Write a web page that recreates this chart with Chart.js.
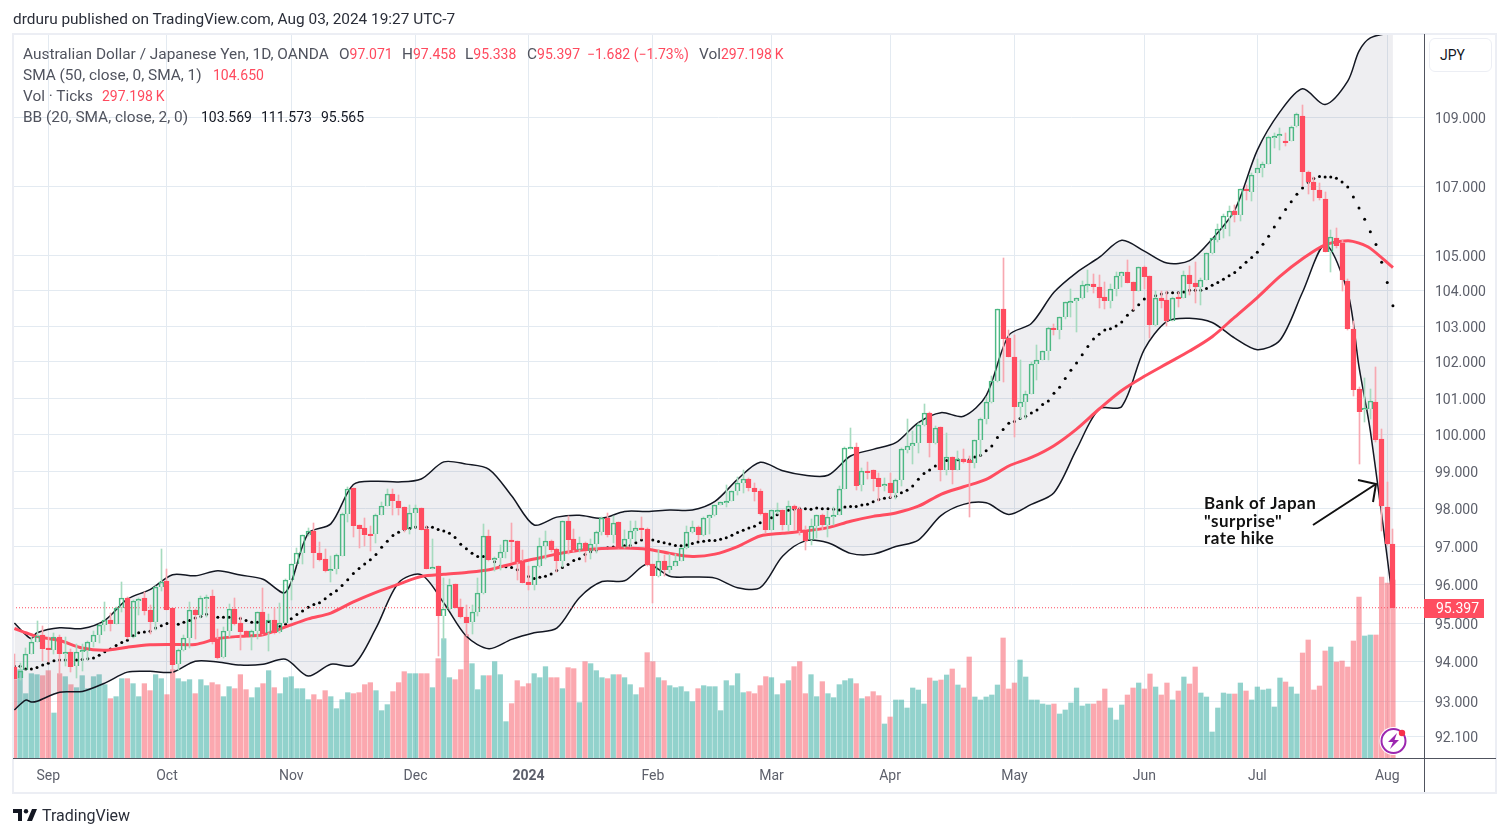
<!DOCTYPE html>
<html>
<head>
<meta charset="utf-8">
<title>AUD/JPY</title>
<script src="https://cdn.jsdelivr.net/npm/chart.js@4"></script>
<style>
  body { margin: 0; background: #fff; width: 1509px; height: 837px; overflow: hidden; font-family: Roboto, sans-serif; color: #131722; }
  canvas { position: absolute; left: 0; top: 0; }
  .txt { position: absolute; white-space: pre; font-size: 15.4px; line-height: 18px; color: #50535e; }
  .r { color: #ff4a5e; font-size: 14px; }
  .k { color: #131722; font-size: 14px; }
  #jpy { position: absolute; left: 1429px; top: 38px; width: 61px; height: 32px; border: 1px solid #eceef4; border-radius: 6px; font-size: 14px; line-height: 32px; text-indent: 10px; color: #131722; background: #fff; }
</style>
</head>
<body>
<canvas id="chart" width="1509" height="837"></canvas>
<div class="txt" style="left:13px;top:10px;color:#2a2e39">drduru published on TradingView.com, Aug 03, 2024 19:27 UTC-7</div>
<div class="txt" style="left:23px;top:45px">Australian Dollar / Japanese Yen, 1D, OANDA</div>
<div class="txt" style="left:339px;top:45px">O<span class="r">97.071</span></div>
<div class="txt" style="left:402px;top:45px">H<span class="r">97.458</span></div>
<div class="txt" style="left:465px;top:45px">L<span class="r">95.338</span></div>
<div class="txt" style="left:527px;top:45px">C<span class="r">95.397</span></div>
<div class="txt r" style="left:587px;top:45px">−1.682 (−1.73%)</div>
<div class="txt" style="left:699px;top:45px">Vol<span class="r">297.198&#8201;K</span></div>
<div class="txt" style="left:23px;top:66px">SMA (50, close, 0, SMA, 1)</div>
<div class="txt r" style="left:213px;top:66px">104.650</div>
<div class="txt" style="left:23px;top:87px">Vol · Ticks</div>
<div class="txt r" style="left:102px;top:87px">297.198&#8201;K</div>
<div class="txt" style="left:23px;top:108px">BB (20, SMA, close, 2, 0)</div>
<div class="txt k" style="left:201px;top:108px">103.569</div>
<div class="txt k" style="left:261px;top:108px">111.573</div>
<div class="txt k" style="left:321px;top:108px">95.565</div>
<div id="jpy">JPY</div>
<svg style="position:absolute;left:13px;top:809px" width="24" height="13" viewBox="0 0 24 13"><path d="M0 0h9v12H5V4H0z M14 12l5-12h5l-5 12z" fill="#131722"/><circle cx="13" cy="2.200" r="2.200" fill="#131722"/></svg>
<div class="txt" style="left:42px;top:807px;font-size:16px;color:#2a2e39">TradingView</div>

<script>
// AUD/JPY daily candles (Aug 2023 - Aug 2024)
const opens = [
  93.87,93.58,93.8,94.2,94.5,94.68,94.36,94.3,94.65,94.2,
  94.26,93.89,94.28,94.28,94.5,94.68,94.96,95.08,94.98,95.4,
  95.65,94.64,95.57,95.64,95.35,95.04,95.95,96.09,95.38,93.95,
  94.3,94.61,95.35,95.21,95.65,95.69,94.58,94.13,94.8,95.37,
  95.0,94.8,94.63,94.8,95.28,94.75,95.08,94.76,95.01,96.13,
  96.54,96.82,97.3,97.41,96.82,96.66,96.39,96.4,96.76,97.87,
  98.55,97.57,97.48,97.32,97.32,97.84,98.08,98.41,98.22,98.04,
  97.46,97.9,98.01,97.47,96.42,96.49,95.18,95.37,96.01,95.42,
  95.16,95.02,95.29,95.77,97.28,96.64,96.7,96.85,97.17,97.14,
  96.61,96.06,96.0,96.48,97.01,97.15,96.94,96.63,97.68,97.2,
  96.91,97.09,96.89,97.08,97.39,97.76,97.3,97.64,96.98,97.21,
  97.42,97.5,97.47,96.53,96.23,96.63,96.39,96.5,96.63,96.95,
  97.38,97.53,97.3,97.76,97.83,98.1,98.18,98.21,98.48,98.7,
  98.81,98.57,98.48,97.89,97.44,97.96,97.97,97.58,98.08,98.0,
  97.45,97.16,97.55,97.84,97.58,97.78,97.84,98.53,99.65,99.67,
  98.63,99.02,99.04,98.82,98.6,98.68,98.43,98.78,99.59,99.7,
  99.76,100.27,100.6,99.76,100.2,99.05,99.38,99.05,99.35,99.31,
  99.24,99.85,100.43,100.88,101.46,103.48,102.66,102.14,100.76,100.9,
  101.12,101.94,102.05,102.3,102.95,102.88,103.25,103.68,103.69,103.78,
  104.17,104.18,104.11,103.81,103.69,104.05,104.4,104.52,104.24,103.99,
  104.66,104.4,103.02,103.78,103.73,103.15,103.81,103.8,104.44,104.21,
  104.11,104.3,105.06,105.43,105.75,106.1,106.28,106.15,106.9,106.84,
  107.39,107.53,107.65,108.42,108.5,108.33,108.32,108.75,109.07,107.42,
  107.12,106.87,106.63,105.09,105.5,105.35,104.26,102.92,101.26,100.68,
  100.7,100.88,99.87,98.04,97.071
];
const closes = [
  93.57,93.78,94.2,94.5,94.67,94.33,94.3,94.64,94.2,94.25,
  93.88,94.25,94.3,94.5,94.68,94.96,95.07,94.97,95.4,95.65,
  94.63,95.57,95.63,95.32,95.03,95.95,96.08,95.35,93.93,94.31,
  94.61,95.34,95.21,95.65,95.68,94.5,94.1,94.8,95.36,94.97,
  94.76,94.65,94.8,95.28,94.73,95.07,94.75,95.01,96.13,96.53,
  96.82,97.3,97.41,96.82,96.65,96.35,96.4,96.78,97.87,98.53,
  97.55,97.47,97.3,97.29,97.84,98.08,98.4,98.21,98.03,97.45,
  97.9,98.01,97.45,96.42,96.47,95.18,95.37,96.0,95.4,95.15,
  95.01,95.29,95.77,97.28,96.64,96.7,96.85,97.17,97.13,96.6,
  96.05,95.99,96.48,97.01,97.14,96.92,96.63,97.67,97.18,96.9,
  97.09,96.88,97.08,97.39,97.75,97.3,97.63,96.97,97.21,97.42,
  97.5,97.46,96.52,96.23,96.62,96.38,96.5,96.62,96.95,97.39,
  97.52,97.3,97.76,97.83,98.1,98.18,98.21,98.48,98.7,98.8,
  98.55,98.46,97.87,97.43,97.96,97.97,97.58,98.07,97.99,97.41,
  97.14,97.55,97.83,97.58,97.78,97.84,98.53,99.65,99.67,98.62,
  99.02,99.0,98.8,98.58,98.67,98.43,98.78,99.6,99.7,99.76,
  100.27,100.6,99.76,100.19,99.04,99.38,99.05,99.34,99.27,99.24,
  99.85,100.43,100.88,101.46,103.48,102.65,102.14,100.76,100.9,101.12,
  101.93,102.05,102.3,102.95,102.88,103.25,103.67,103.7,103.78,104.17,
  104.18,104.11,103.8,103.69,104.05,104.4,104.52,104.21,103.99,104.66,
  104.39,103.02,103.78,103.71,103.15,103.8,103.79,104.43,104.18,104.1,
  104.29,105.06,105.5,105.77,106.13,106.27,106.15,106.9,106.88,107.32,
  107.53,107.65,108.45,108.48,108.54,108.27,108.73,109.13,107.4,107.11,
  106.87,106.66,105.11,105.52,105.28,104.29,102.93,101.23,100.62,100.72,
  100.92,99.85,98.08,97.06,95.397
];
const highs = [
  94.2,93.97,94.35,94.65,95.05,94.92,94.65,94.74,94.7,94.65,
  94.32,94.45,94.47,94.55,94.8,94.97,95.55,95.25,95.41,96.08,
  95.67,95.6,95.66,95.8,95.48,95.96,96.93,96.42,95.4,94.32,
  94.7,95.55,95.36,95.7,95.74,95.85,94.85,94.9,95.5,95.65,
  95.17,94.8,94.82,95.3,95.9,95.23,95.39,95.52,96.14,96.54,
  96.95,97.31,97.5,97.62,97.13,96.93,96.75,96.79,97.88,98.58,
  98.56,97.58,97.75,97.55,97.85,98.17,98.53,98.52,98.38,98.05,
  98.1,98.1,98.02,97.55,97.2,96.5,96.16,96.14,96.02,95.62,
  95.48,95.48,96.16,97.6,97.43,96.72,97.03,97.18,97.62,97.15,
  96.9,96.49,96.49,97.22,97.42,97.16,96.95,97.68,97.8,97.47,
  97.25,97.11,97.2,97.4,97.78,97.9,97.82,97.65,97.45,97.67,
  97.68,97.77,97.48,96.54,96.91,96.77,96.8,96.8,96.96,97.54,
  97.68,97.54,97.77,97.84,98.11,98.19,98.63,98.49,98.86,99.04,
  98.83,98.7,98.53,97.9,97.97,98.15,97.98,98.22,98.09,98.05,
  97.54,97.72,97.84,97.85,97.93,98.05,98.62,99.66,100.17,99.76,
  99.09,99.25,99.05,98.95,98.83,98.95,98.79,99.65,100.42,100.1,
  100.33,100.83,100.61,100.24,100.21,100.04,99.39,99.56,99.6,99.42,
  99.86,100.44,101.03,101.62,103.49,104.93,102.9,102.75,102.04,101.2,
  102.0,102.47,102.31,102.96,103.07,103.26,103.68,104.03,103.79,104.28,
  104.58,104.46,104.43,104.25,104.18,104.52,104.53,104.87,104.25,104.67,
  104.7,104.41,103.99,104.0,103.99,103.81,103.95,104.55,104.7,104.82,
  104.35,105.07,105.51,105.9,106.2,106.42,106.45,106.92,107.04,107.38,
  107.8,107.71,108.46,108.56,108.7,108.57,108.75,109.15,109.39,107.43,
  107.25,107.1,106.83,105.72,105.78,105.45,104.34,103.15,101.3,101.55,
  101.25,101.85,100.16,98.72,97.458
];
const lows = [
  93.55,93.55,93.8,94.2,94.5,94.03,94.0,94.2,93.68,93.9,
  93.74,93.6,93.76,94.05,94.38,94.48,94.8,94.8,94.97,95.3,
  94.6,94.62,95.2,95.2,94.73,94.82,95.84,95.33,93.72,93.8,
  94.28,94.36,94.6,95.12,95.17,94.45,94.08,94.1,94.65,94.95,
  94.3,94.63,94.3,94.6,94.7,94.27,94.73,94.74,95.0,95.6,
  96.53,96.53,97.28,96.44,96.63,96.33,96.07,96.27,96.75,97.66,
  97.25,96.96,97.02,96.87,97.1,97.83,98.07,97.83,97.83,97.38,
  97.33,97.5,97.44,96.4,96.41,94.15,94.57,95.35,95.38,95.13,
  94.66,94.72,95.18,95.76,96.62,96.36,96.38,96.7,96.6,96.12,
  96.04,95.86,95.87,96.47,96.68,96.85,96.32,96.46,96.8,96.85,
  96.85,96.6,96.68,96.84,97.3,97.25,97.1,96.96,96.97,97.0,
  97.15,97.2,96.5,95.52,96.19,96.23,96.3,96.48,96.62,96.94,
  97.37,97.16,97.29,97.32,97.82,98.09,98.05,98.2,98.38,98.43,
  98.47,98.22,97.84,97.35,97.43,97.85,97.43,97.41,97.45,97.3,
  96.91,97.03,97.23,97.45,97.25,97.58,97.83,98.52,99.6,98.5,
  98.48,98.8,98.48,98.2,98.47,98.3,98.25,98.6,99.5,99.2,
  99.5,100.24,99.39,99.75,98.75,98.92,98.66,99.04,99.24,97.78,
  99.1,99.42,100.28,100.87,101.43,101.43,102.13,99.93,100.42,100.42,
  101.11,101.5,102.04,102.04,102.74,102.63,103.2,103.25,102.83,103.77,
  103.95,103.92,103.5,103.47,103.52,103.84,104.1,104.2,103.44,103.98,
  104.04,102.67,103.01,103.5,103.0,103.14,103.54,103.79,103.87,103.65,
  103.6,104.29,105.05,105.38,105.5,105.55,105.95,106.0,106.6,106.57,
  107.37,107.25,107.64,108.1,108.05,108.17,108.31,108.74,107.0,106.77,
  106.57,106.6,105.1,104.53,105.2,103.99,102.9,101.05,99.2,100.34,
  100.42,99.8,97.42,97.04,95.338
];
// Volume pane, relative units (about 0.556K ticks each)
const volumes = [
  235,265,193,253,250,247,262,135,253,244,
  220,211,247,208,244,250,220,178,184,238,
  238,223,184,223,202,250,238,190,265,238,
  229,235,193,235,217,226,220,184,214,208,
  250,205,181,211,223,262,211,193,241,244,
  208,208,175,190,175,202,184,148,175,196,
  193,196,220,226,202,142,160,199,226,259,
  253,253,253,253,211,298,358,241,235,265,
  370,283,205,247,247,289,250,109,163,232,
  214,223,253,241,274,241,241,208,271,268,
  166,289,283,262,241,238,250,250,241,220,
  190,211,316,289,241,232,217,211,214,199,
  169,208,217,214,214,142,232,217,253,196,
  199,193,217,244,241,190,223,232,274,289,
  193,250,184,229,193,181,220,232,238,223,
  178,184,199,187,102,123,174,174,150,210,
  204,162,240,231,234,249,267,219,210,303,
  183,174,183,189,219,360,207,225,294,243,
  174,174,162,159,162,132,144,165,210,156,
  162,162,171,207,150,114,159,189,210,225,
  207,252,213,189,225,174,201,243,222,273,
  195,183,78,150,195,192,192,225,201,174,
  213,204,207,153,240,228,213,192,315,354,
  204,216,321,333,288,291,273,351,483,366,
  369,369,543,525,534
];
// BB middle band, drawn as one dot per bar
const bbMid = [
  93.89,93.89,93.82,93.82,93.86,93.92,93.97,94.03,94.05,94.05,
  94.05,94.05,94.06,94.08,94.1,94.17,94.26,94.33,94.42,94.5,
  94.56,94.67,94.75,94.77,94.79,94.87,94.93,94.99,94.94,94.97,
  95.02,95.07,95.13,95.17,95.23,95.19,95.15,95.15,95.15,95.13,
  95.12,95.07,95.02,95.02,94.99,95.04,94.99,94.91,94.97,95.11,
  95.22,95.31,95.41,95.48,95.53,95.63,95.75,95.84,95.98,96.13,
  96.29,96.42,96.54,96.65,96.79,96.98,97.14,97.29,97.38,97.45,
  97.48,97.52,97.52,97.51,97.51,97.45,97.41,97.35,97.24,97.06,
  96.94,96.82,96.74,96.74,96.69,96.6,96.49,96.47,96.45,96.39,
  96.3,96.21,96.16,96.19,96.22,96.28,96.37,96.45,96.53,96.63,
  96.68,96.79,96.86,96.91,96.95,96.97,96.99,97.02,97.02,97.03,
  97.1,97.17,97.19,97.17,97.13,97.1,97.07,97.03,97.02,97.04,
  97.08,97.12,97.14,97.16,97.16,97.19,97.23,97.3,97.37,97.43,
  97.49,97.54,97.63,97.7,97.76,97.84,97.9,97.96,97.99,98.0,
  98.0,97.99,98.02,98.0,98.0,97.99,97.97,98.05,98.06,98.06,
  98.1,98.12,98.19,98.25,98.28,98.3,98.34,98.43,98.5,98.61,
  98.79,98.95,99.04,99.15,99.2,99.3,99.33,99.32,99.31,99.32,
  99.39,99.44,99.56,99.69,99.92,100.14,100.31,100.36,100.44,100.5,
  100.59,100.67,100.82,100.92,101.13,101.3,101.54,101.77,101.97,102.2,
  102.43,102.64,102.77,102.89,102.92,103.0,103.11,103.3,103.44,103.6,
  103.76,103.83,103.85,103.9,103.94,103.94,103.94,103.96,104.01,104.01,
  104.01,104.06,104.15,104.23,104.32,104.42,104.51,104.65,104.8,104.94,
  105.09,105.32,105.55,105.81,106.07,106.32,106.54,106.76,106.94,107.1,
  107.22,107.28,107.26,107.26,107.23,107.12,106.97,106.68,106.36,106.04,
  105.68,105.31,104.8,104.23,103.569
];
// Bands and SMA read at these bars
const readIdx = [
  0,2,3,4,8,12,16,20,24,28,32,36,40,44,48,52,56,60,64,68,72,76,80,84,88,92,96,100,
  104,108,112,116,120,124,128,132,136,140,144,148,152,156,160,164,168,172,176,180,
  184,188,192,196,200,204,208,212,216,220,224,228,232,236,238,240,244
];
const bbUpper = [
  95.0,94.7,94.6,94.75,94.88,94.86,95.07,95.62,95.87,96.26,96.23,96.36,96.25,96.14,95.8,97.35,97.6,98.65,98.74,98.72,98.8,99.26,99.2,99.06,98.35,97.57,97.78,97.83,
  97.75,97.93,97.93,97.97,97.97,98.2,98.79,99.25,99.02,98.9,98.9,99.42,99.6,99.78,100.33,100.6,100.5,101.07,102.74,103.07,
  103.95,104.51,104.94,105.43,105.12,104.78,104.85,105.47,106.3,108.05,109.18,109.87,109.4,110.1,111.0,111.4,111.573
];
const bbLower = [
  92.78,93.03,92.98,93.0,93.23,93.25,93.46,93.74,93.76,93.74,94.02,94.0,93.92,93.94,94.07,93.64,93.94,93.92,94.87,96.05,96.26,95.52,94.66,94.34,94.58,94.75,94.87,95.66,
  96.08,96.1,96.54,96.22,96.2,96.17,95.92,95.92,96.75,97.15,97.1,96.82,96.8,97.0,97.17,97.82,98.12,98.16,97.85,98.12,
  98.43,99.6,100.7,100.77,102.35,103.13,103.22,103.1,102.66,102.34,102.6,103.95,105.3,103.95,101.86,100.1,95.565
];
const sma50 = [
  94.86,94.75,94.7,94.65,94.55,94.36,94.3,94.38,94.44,94.45,94.45,94.6,94.66,94.7,94.9,95.11,95.26,95.55,95.8,96.01,96.21,96.27,96.32,96.39,96.54,96.67,96.8,96.9,
  96.95,96.96,96.93,96.82,96.74,96.8,97.0,97.28,97.35,97.41,97.5,97.67,97.8,97.89,98.07,98.39,98.59,98.79,99.15,99.38,
  99.7,100.15,100.7,101.21,101.6,101.95,102.3,102.7,103.25,103.8,104.4,104.9,105.3,105.42,105.35,105.2,104.65
];
const priceTicks = [92.1,93,94,95,96,97,98,99,100,101,102,103,104,105,107,109];
const monthBars = [6,27,49,71,91,113,134,155,177,200,220,243];
const monthLabels = ['Sep','Oct','Nov','Dec','2024','Feb','Mar','Apr','May','Jun','Jul','Aug'];
const lastPrice = 95.397;

const RED = '#ff4d60', GREEN = '#4db884';
const GRID = '#e3eaf1';
const AXIS_TEXT = '#5d606b';

function isUp(i){ return closes[i] >= opens[i]; }
function bodyTop(i){ return Math.max(opens[i], closes[i]); }
function bodyBot(i){ return Math.min(opens[i], closes[i]); }

let upperWick = highs.map((h,i) => ({x:i, y:[bodyTop(i), h]}));
let lowerWick = lows.map((l,i) => ({x:i, y:[l, bodyBot(i)]}));
let bodyData = opens.map((o,i) => ({x:i, y:[bodyBot(i), bodyTop(i)]}));
let volData = volumes.map((v,i) => ({x:i, y:v}));
let bandPts = arr => arr.map((v,i) => ({x:readIdx[i], y:v}));
let wickColors = lows.map((v,i) => isUp(i) ? '#a6dbbf' : '#f8a8b1');

// keep candles on whole pixels so the hollow bodies stay crisp
const snapCandles = {
  id: 'snapCandles',
  beforeDatasetsDraw(chart){
    chart.data.datasets.forEach((ds,n) => {
      if (!ds.snap) return;
      chart.getDatasetMeta(n).data.forEach(el => {
        el.x = Math.round(el.x - 0.5) + 0.5;
        el.y = Math.round(el.y);
        el.base = Math.round(el.base);
        if (ds.snap === 'body' && el.base - el.y < 2) el.base = el.y + 2;
      });
    });
  }
};

// frame, axis lines, price label, note and the small bolt badge
const extras = {
  id: 'extras',
  afterDraw(chart){
    const ctx = chart.ctx;
    const y = chart.scales.y;
    ctx.save();
    ctx.strokeStyle = '#eceef4';
    ctx.lineWidth = 2;
    ctx.strokeRect(13, 34, 1483, 759);
    ctx.lineWidth = 1;
    ctx.strokeStyle = '#50535e';
    ctx.beginPath();
    ctx.moveTo(13, 758.5); ctx.lineTo(1496, 758.5);
    ctx.moveTo(1424.5, 34); ctx.lineTo(1424.5, 792);
    ctx.stroke();

    // last price tag
    const py = y.getPixelForValue(lastPrice);
    ctx.fillStyle = RED;
    ctx.fillRect(1424, Math.round(py) - 9, 60, 19);
    ctx.fillStyle = '#fff';
    ctx.font = '14px Roboto';
    ctx.textBaseline = 'middle';
    ctx.fillText('95.397', 1436, Math.round(py) + 1);

    // note with arrow
    ctx.fillStyle = '#111';
    ctx.font = 'bold 17px Lato';
    ctx.textBaseline = 'alphabetic';
    ctx.letterSpacing = '0.5px';
    ctx.fillText('Bank of Japan', 1204, 509);
    ctx.fillText('"surprise"', 1204, 527);
    ctx.fillText('rate hike', 1204, 544);
    ctx.letterSpacing = '0px';
    ctx.strokeStyle = '#111';
    ctx.lineWidth = 2;
    ctx.beginPath();
    ctx.moveTo(1313, 525); ctx.lineTo(1376, 484);
    ctx.moveTo(1358, 480); ctx.lineTo(1376, 484); ctx.lineTo(1373, 502);
    ctx.stroke();

    // bolt badge
    ctx.fillStyle = '#fff';
    ctx.beginPath(); ctx.arc(1393.5, 741, 14, 0, Math.PI*2); ctx.fill();
    ctx.strokeStyle = '#9c27b0';
    ctx.lineWidth = 2;
    ctx.beginPath(); ctx.arc(1393.5, 741, 12, 0, Math.PI*2); ctx.stroke();
    ctx.fillStyle = '#9c27b0';
    ctx.beginPath();
    ctx.moveTo(1397,733); ctx.lineTo(1388,742); ctx.lineTo(1393,742); ctx.lineTo(1390,749); ctx.lineTo(1399,740); ctx.lineTo(1394.5,740);
    ctx.closePath(); ctx.fill();
    ctx.fillStyle = '#f7304a';
    ctx.beginPath(); ctx.arc(1402, 733, 3.2, 0, Math.PI*2); ctx.fill();
    ctx.restore();
  }
};

new Chart(document.getElementById('chart').getContext('2d'), {
  type: 'bar',
  plugins: [snapCandles, extras],
  data: {
    datasets: [
      {label:'Vol', yAxisID:'vol', data:volData, grouped:false, barThickness:4.6, order:20,
        backgroundColor: volumes.map((v,i) => isUp(i) ? 'rgba(38,166,154,0.5)' : 'rgba(247,82,95,0.5)')},
      {type:'line', label:'BB upper', data:bandPts(bbUpper), borderColor:'#131722', borderWidth:1.5, pointRadius:0,
        tension:0.3, fill:'+1', backgroundColor:'rgba(120,123,150,0.13)', order:12},
      {type:'line', label:'BB lower', data:bandPts(bbLower), borderColor:'#131722', borderWidth:1.5, pointRadius:0,
        tension:0.3, fill:false, order:11},
      {type:'line', label:'BB basis', data:bbMid.map((v,i) => ({x:i,y:v})), showLine:false, pointRadius:1.5,
        pointBackgroundColor:'#000', pointBorderWidth:0, order:10},
      {type:'line', label:'Last', data:[{x:-0.25,y:lastPrice},{x:249.5,y:lastPrice}], borderColor:RED, borderWidth:1,
        borderDash:[1,2], pointRadius:0, order:9},
      {type:'line', label:'SMA 50', data:bandPts(sma50), borderColor:RED, borderWidth:3, pointRadius:0, tension:0.3, order:8},
      {label:'Wick high', data:upperWick, grouped:false, barThickness:1, order:3, snap:'wick', backgroundColor:wickColors},
      {label:'Wick low', data:lowerWick, grouped:false, barThickness:1, order:3, snap:'wick', backgroundColor:wickColors},
      {label:'Body', data:bodyData, grouped:false, barThickness:5, order:2, borderWidth:1, snap:'body',
        borderColor: opens.map((v,i) => isUp(i) ? GREEN : RED),
        backgroundColor: opens.map((v,i) => isUp(i) ? 'rgba(255,255,255,0)' : RED)}
    ]
  },
  options: {
    responsive: false,
    animation: false,
    layout: {padding: {left:13, top:34, right:0, bottom:0}},
    plugins: {legend:{display:false}, tooltip:{enabled:false}},
    scales: {
      x: {
        type:'linear', min:-0.25, max:249.5, offset:false,
        afterBuildTicks: s => { s.ticks = monthBars.map(v => ({value:v})); },
        afterFit: s => { s.height = 79; },
        grid: {color:GRID, drawTicks:false, offset:false},
        border: {display:false},
        ticks: {
          autoSkip:false, maxRotation:0, padding:10.5, color:AXIS_TEXT,
          font: c => ({family:'Roboto', size:14, weight: c.tick && c.tick.value===91 ? 'bold' : 'normal'}),
          callback: v => monthLabels[monthBars.indexOf(v)]
        }
      },
      y: {
        type:'logarithmic', position:'right', min:91.575, max:111.52,
        afterBuildTicks: s => { s.ticks = priceTicks.map(v => ({value:v})); },
        afterFit: s => { s.width = 85; },
        grid: {color:GRID, drawTicks:false},
        border: {display:false},
        ticks: {padding:11, labelOffset:2, color:AXIS_TEXT, font:{family:'Roboto', size:14}, autoSkip:false, callback: v => v.toFixed(3)}
      },
      vol: {type:'linear', display:false, min:0, max:2172, position:'left'}
    }
  }
});
</script>
</body>
</html>
